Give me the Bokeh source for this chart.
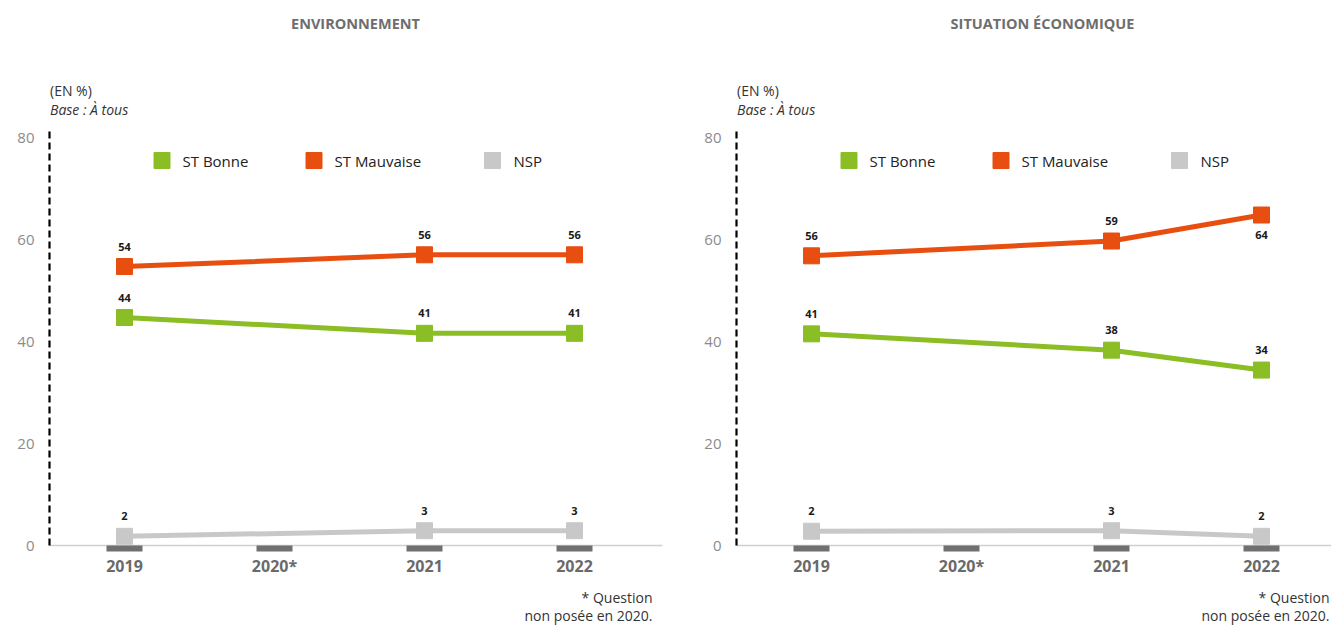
from bokeh.plotting import figure
from bokeh.models import Range1d, FixedTicker, ColumnDataSource
from bokeh.layouts import row, column
from bokeh.embed import file_html
from bokeh.resources import INLINE
from bokeh.core.properties import value

# ---------------- data ----------------
years = ["2019", "2020*", "2021", "2022"]
series_names = ["ST Bonne", "ST Mauvaise", "NSP"]
series_colors = ["#8BBD24", "#E84E10", "#C8C8C8"]

env_bonne = [44.7, None, 41.6, 41.6]
env_mauvaise = [54.7, None, 57.0, 57.0]
env_nsp = [1.8, None, 2.9, 2.9]
env_bonne_lbl = [44, None, 41, 41]
env_mauvaise_lbl = [54, None, 56, 56]
env_nsp_lbl = [2, None, 3, 3]

eco_bonne = [41.5, None, 38.3, 34.4]
eco_mauvaise = [56.8, None, 59.7, 64.8]
eco_nsp = [2.8, None, 2.9, 1.8]
eco_bonne_lbl = [41, None, 38, 34]
eco_mauvaise_lbl = [56, None, 59, 64]
eco_nsp_lbl = [2, None, 3, 2]

y_ticks = [0, 20, 40, 60, 80]

FONT = "Open Sans"
FONT_V = value(FONT)

TOP_H = 120            # header strip height
M_TOP, FRAME_H, M_BOTTOM = 10, 415, 35
MAIN_H = M_TOP + FRAME_H + M_BOTTOM
FOOT_H = 625 - TOP_H - MAIN_H
PPU_Y = 5.1            # pixels per % unit
PPU_X = 150.0          # pixels per category step
FRAME_TOP = TOP_H + M_TOP
FRAME_BOTTOM = FRAME_TOP + FRAME_H


def strip(width, height, left, right):
    """Text strip; its frame is aligned with the chart frame below/above it,
    so its data space is the canvas pixel grid between left and right (y down)."""
    s = figure(width=width, height=height, output_backend="svg", toolbar_location=None,
               x_range=Range1d(left, width - right), y_range=Range1d(height, 0),
               x_axis_type=None, y_axis_type=None,
               min_border_left=left, min_border_right=right, min_border_top=0,
               min_border_bottom=0)
    s.outline_line_color = None
    s.xgrid.visible = False
    s.ygrid.visible = False
    return s


def make_panel(title, values, labels, width, border_left, border_right,
               below_labels=(), note_right=None):
    x0 = border_left + 0.5 * PPU_X       # canvas x of first category
    frame_w = width - border_left - border_right

    def xd(cx):
        return (cx - x0) / PPU_X

    def yd(cy):
        return (FRAME_BOTTOM - cy) / PPU_Y

    # ---- header ----
    head = strip(width, TOP_H, border_left, border_right)
    head.text([x0 + 231], [23], text=[title], text_align="center", text_baseline="middle",
              text_font=FONT_V, text_font_style="bold", text_font_size="14.5px",
              text_color="#6E6E6E")
    head.text([border_left + 0.5], [90], text=["(EN %)"], text_align="left",
              text_baseline="middle", text_font=FONT_V, text_font_size="14px",
              text_color="#333333")
    head.text([border_left + 0.5], [109], text=["Base : À tous"], text_align="left",
              text_baseline="middle", text_font=FONT_V, text_font_style="italic",
              text_font_size="14px", text_color="#333333")

    # ---- main chart ----
    p = figure(width=width, height=MAIN_H, output_backend="svg", toolbar_location=None,
               x_range=Range1d(-0.5, -0.5 + frame_w / PPU_X),
               y_range=Range1d(0, FRAME_H / PPU_Y),
               min_border_left=border_left, min_border_right=border_right,
               min_border_top=M_TOP, min_border_bottom=M_BOTTOM)
    p.outline_line_color = None
    p.xgrid.visible = False
    p.ygrid.visible = False

    xa = p.xaxis[0]
    xa.ticker = FixedTicker(ticks=list(range(len(years))))
    xa.major_label_overrides = {i: y for i, y in enumerate(years)}
    xa.axis_line_color = "#D0D0D0"
    xa.axis_line_width = 1.5
    xa.major_tick_line_color = "#707070"
    xa.major_tick_line_width = 36
    xa.major_tick_line_cap = "butt"
    xa.major_tick_out = 6
    xa.major_tick_in = 0
    xa.minor_tick_line_color = None
    xa.major_label_text_font = FONT
    xa.major_label_text_font_style = "bold"
    xa.major_label_text_font_size = "16px"
    xa.major_label_text_color = "#6A6A6A"
    xa.major_label_standoff = 3

    ya = p.yaxis[0]
    ya.ticker = FixedTicker(ticks=y_ticks)
    ya.axis_line_color = "black"
    ya.axis_line_width = 2.2
    ya.axis_line_dash = "7 4"
    ya.major_tick_line_color = None
    ya.minor_tick_line_color = None
    ya.major_label_text_font = FONT
    ya.major_label_text_font_size = "15px"
    ya.major_label_text_color = "#8C8C8C"
    ya.major_label_standoff = 9

    for si, (vals, lbls) in enumerate(zip(values, labels)):
        xs = [i for i, v in enumerate(vals) if v is not None]
        ys = [v for v in vals if v is not None]
        ts = [str(l) for l in lbls if l is not None]
        color = series_colors[si]
        src = ColumnDataSource(dict(x=xs, y=ys))
        p.line("x", "y", source=src, line_color=color, line_width=5)
        p.scatter("x", "y", source=src, marker="square", size=16,
                  fill_color=color, line_color=color)
        ly = []
        for x, y in zip(xs, ys):
            off = -20 if (si, x) in below_labels else 20
            ly.append(y + off / PPU_Y)
        p.text(xs, ly, text=ts, text_align="center", text_baseline="middle",
               text_font=FONT_V, text_font_style="bold", text_font_size="11px",
               text_color="#1A1A1A")

    # legend
    sq_rel = [37.5, 189.5, 368]
    tx_rel = [58, 210, 389]
    leg_y = yd(160)
    for si, name in enumerate(series_names):
        p.scatter([xd(x0 + sq_rel[si])], [leg_y], marker="square", size=16,
                  fill_color=series_colors[si], line_color=series_colors[si])
        p.text([xd(x0 + tx_rel[si])], [leg_y], text=[name], text_align="left",
               text_baseline="middle", text_font=FONT_V, text_font_size="15px",
               text_color="#222222")

    # ---- footnote ----
    foot = strip(width, FOOT_H, border_left, border_right)
    top_of_foot = TOP_H + MAIN_H
    nr = note_right if note_right is not None else x0 + 528
    foot.text([nr, nr], [597 - top_of_foot, 615 - top_of_foot],
              text=["* Question", "non posée en 2020."], text_align="right",
              text_baseline="middle", text_font=FONT_V, text_font_size="14px",
              text_color="#333333")

    return column(head, p, foot)


p1 = make_panel("ENVIRONNEMENT",
                [env_bonne, env_mauvaise, env_nsp],
                [env_bonne_lbl, env_mauvaise_lbl, env_nsp_lbl],
                width=688, border_left=49, border_right=26)
p2 = make_panel("SITUATION ÉCONOMIQUE",
                [eco_bonne, eco_mauvaise, eco_nsp],
                [eco_bonne_lbl, eco_mauvaise_lbl, eco_nsp_lbl],
                width=643, border_left=48, border_right=0,
                below_labels={(1, 3)}, note_right=641)

layout = row(p1, p2)
open("out.html", "w").write(file_html(layout, INLINE))
